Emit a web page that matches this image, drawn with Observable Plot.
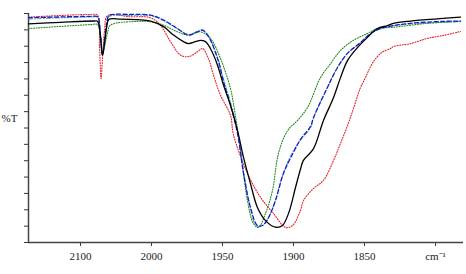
<!DOCTYPE html>
<html>
<head>
<meta charset="utf-8">
<script src="https://cdn.jsdelivr.net/npm/d3@7"></script>
<script src="https://cdn.jsdelivr.net/npm/@observablehq/plot@0.6"></script>
<style>
  html, body { margin: 0; padding: 0; background: #fff; }
</style>
</head>
<body>
<div id="chart"></div>
<script>
// x tick positions (wavenumber) and the labels printed under them
const xTickValues = [2050, 2000, 1950, 1900, 1850, 1800];
const xTickLabels = ["2100", "2000", "1950", "1900", "1850", "cm⁻¹"];
const yTickValues = [30, 35, 40, 45, 50, 55, 60, 65, 70, 75, 80, 85, 90, 95, 100];
const yLabel = "%T";

// series: [wavenumber, %T]
const black = [
  [2086.6, 96.8], [2064, 97.3], [2040, 97.7], [2038, 97.6], [2036, 93.5], [2034.5, 87.3],
  [2033, 91], [2031.5, 96], [2030, 98.2], [2022, 98.3], [2010, 98.1], [2000.7, 97.7],
  [1991.5, 96], [1984.5, 93.4], [1977.5, 91.4], [1973.9, 90.8], [1969, 91.4], [1965.5, 91.8],
  [1962, 91.4], [1958.5, 89.3], [1953.5, 84.2], [1949.3, 78.1], [1944.4, 72], [1939.4, 64.2],
  [1935.2, 56], [1930.3, 48], [1925.4, 40.7], [1919.7, 36.7], [1912.7, 34.7], [1907.8, 35.2],
  [1903.5, 38.9], [1898.6, 46.8], [1895.1, 52.4], [1893, 55.1], [1886, 58.6], [1878.9, 67.3],
  [1871.8, 74.3], [1866.9, 80.4], [1862, 85.6], [1854.9, 89.6], [1847.9, 92.7], [1840.9, 95.4],
  [1833.8, 96.3], [1829.6, 97], [1817.6, 97.7], [1794.4, 98.5], [1782.4, 98.9]
];
const blue = [
  [2086.6, 98.7], [2043, 99.1], [2038, 99], [2036, 93.5], [2034.5, 87.3], [2033, 92],
  [2031.5, 97], [2030, 99.3], [2014.8, 99.7], [2000.7, 99.5], [1991.5, 98], [1981.7, 95.4],
  [1973.9, 93.4], [1967.6, 94.4], [1964.1, 94.9], [1959.9, 93], [1953.5, 86.2], [1949.3, 79.2],
  [1944.4, 72], [1939.4, 63.3], [1935.2, 51.1], [1930.3, 40.7], [1925.4, 35.2], [1921.8, 35.2],
  [1917.6, 37.6], [1912.7, 42.8], [1907.1, 51.1], [1900.7, 57], [1895.1, 61.5], [1888, 65.5],
  [1885.9, 68.2], [1876.1, 77.4], [1869, 83.5], [1862, 87.8], [1852.8, 91.1], [1845.8, 93.9],
  [1838.7, 95.4], [1829.6, 96.3], [1817.6, 97], [1794.4, 97.6], [1782.4, 97.7]
];
const cyan = [
  [2086.6, 98.3], [2043, 98.9], [2038, 98.8], [2036, 93.5], [2034.5, 87.5], [2033, 92],
  [2031.5, 97], [2030, 99], [2014.8, 99.4], [2000.7, 99.3], [1991.5, 97.8], [1981.7, 95.3],
  [1973.9, 93.6], [1967.6, 94.6], [1964.1, 95], [1959.9, 93.2], [1953.5, 86.8], [1949.3, 80],
  [1944.4, 73], [1939.4, 64], [1935.2, 52], [1930.3, 40.5], [1926.5, 35.2], [1922.5, 35],
  [1918.5, 37], [1913.5, 42], [1908, 50], [1901.5, 57], [1895.5, 61], [1888, 65],
  [1885.9, 68], [1876.1, 77.5], [1869, 83.5], [1862, 87.8], [1852.8, 91.1], [1845.8, 93.8],
  [1838.7, 95.3], [1829.6, 96.2], [1817.6, 96.8], [1794.4, 97.3], [1782.4, 97.5]
];
const red = [
  [2086.6, 98.9], [2043, 99.7], [2038, 99.5], [2036.6, 90], [2035.5, 80.1], [2034.5, 86],
  [2033, 95], [2031, 99.3], [2014.8, 99], [2000.7, 98.7], [1993.7, 96.4], [1986.6, 91.4],
  [1979.6, 87.3], [1973.9, 86.8], [1967.6, 88.3], [1964.1, 89.3], [1959.9, 86.2], [1956.3, 81.1],
  [1951.4, 75], [1944.4, 68.9], [1942.3, 63], [1932.4, 51.1], [1923.2, 43.8], [1914.1, 38.9],
  [1905.6, 34.6], [1900.7, 35.2], [1895.1, 39.8], [1893, 42.8], [1885.9, 46.5], [1878.9, 49],
  [1871.8, 55.1], [1866.9, 60.3], [1859.9, 68.2], [1852.8, 77.4], [1850.7, 79.2], [1843.7, 85.3],
  [1838.7, 87.8], [1836.6, 88.4], [1831.7, 89.3], [1829.6, 89.9], [1817.6, 90.8], [1805.6, 92.4],
  [1794.4, 93.3], [1782.4, 94.5]
];
const green = [
  [2086.6, 95.4], [2043, 96.6], [2038, 96.6], [2036, 92], [2034.5, 87.3], [2033, 90],
  [2031, 94], [2029, 96.4], [2010, 97.6], [2000.7, 97.5], [1991.5, 96.4], [1981.7, 94.4],
  [1973.9, 93.4], [1965.5, 94.4], [1958.5, 92.4], [1951.4, 86.2], [1944.4, 77.1], [1942.3, 72.5],
  [1937.3, 58.1], [1932.4, 42.8], [1928.2, 35.8], [1924.7, 34.6], [1919.7, 38.9], [1914.8, 45.9],
  [1910.6, 57.2], [1904.2, 64.2], [1897.2, 67.3], [1890.1, 71.3], [1881, 80.4], [1873.9, 84.7],
  [1866.9, 88.7], [1857.8, 91.8], [1847.9, 93.9], [1840.9, 95.4], [1829.6, 95.8], [1805.6, 97],
  [1782.4, 97.6]
];

const xDomain = [2086.6, 1780.3];
const yDomain = [30, 100];
const labelMap = new Map(xTickValues.map((v, i) => [v, xTickLabels[i]]));

const line = (data, opts) => Plot.line(data, {x: d => d[0], y: d => d[1], curve: "catmull-rom", ...opts});

const chart = Plot.plot({
  width: 466,
  height: 274,
  marginLeft: 28,
  marginRight: 3,
  marginTop: 13,
  marginBottom: 32,
  style: {fontFamily: "'Liberation Serif', 'Times New Roman', serif", fontSize: "11px", background: "#fff", color: "#222"},
  x: {domain: xDomain},
  y: {domain: yDomain},
  marks: [
    Plot.axisY({ticks: yTickValues, tickFormat: () => "", tickSize: 4, label: null, stroke: "#333"}),
    Plot.axisX({ticks: xTickValues, tickFormat: d => labelMap.get(d), tickSize: 4, tickPadding: 6, label: null, stroke: "#333"}),
    Plot.ruleY([yDomain[0]], {stroke: "#444", strokeWidth: 1.5}),
    Plot.ruleX([xDomain[0]], {stroke: "#444", strokeWidth: 1.5}),
    line(red, {stroke: "#e8202a", strokeWidth: 1.1, strokeDasharray: "1,1.6"}),
    line(green, {stroke: "#1a8a1a", strokeWidth: 1.1, strokeDasharray: "1,1.6"}),
    line(cyan, {stroke: "#2aa0a0", strokeWidth: 0.9, strokeDasharray: "4,2,1,2"}),
    line(blue, {stroke: "#1a1acc", strokeWidth: 1.3, strokeDasharray: "4,2.5"}),
    line(black, {stroke: "#000", strokeWidth: 1.3}),
    Plot.text([yLabel], {frameAnchor: "left", text: d => d, dx: -27, dy: -10, textAnchor: "start", fill: "#222"})
  ]
});
document.getElementById("chart").append(chart);
</script>
</body>
</html>
